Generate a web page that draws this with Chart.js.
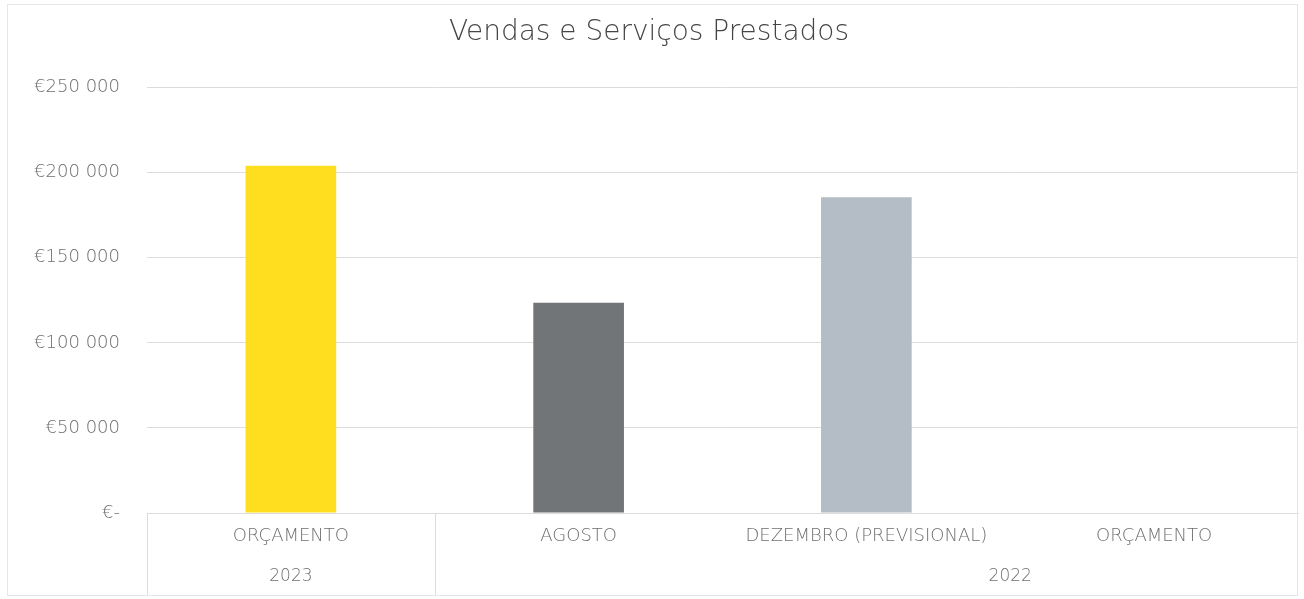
<!DOCTYPE html>
<html>
<head>
<meta charset="utf-8">
<script src="https://cdn.jsdelivr.net/npm/chart.js@4.4.0/dist/chart.umd.min.js"></script>
<style>
  html, body { margin: 0; padding: 0; background: #ffffff; overflow: hidden; }
  #wrap { position: relative; width: 1304px; height: 599px; }
  #frame { position: absolute; left: 7px; top: 4px; width: 1291px; height: 592px; border: 1px solid #e4e6e8; box-sizing: border-box; pointer-events: none; }
</style>
</head>
<body>
<div id="wrap">
  <canvas id="c" width="1304" height="599"></canvas>
  <div id="frame"></div>
</div>
<script>
const categories = ['ORÇAMENTO', 'AGOSTO', 'DEZEMBRO (PREVISIONAL)', 'ORÇAMENTO'];
const values = [204000, 123500, 185500, null];
const barColors = ['#FFDD1F', '#727578', '#B4BDC5', '#B4BDC5'];
const yearGroups = [
  { label: '2023', from: 0, to: 0 },
  { label: '2022', from: 1, to: 4 }
];
const yTicks = [0, 50000, 100000, 150000, 200000, 250000];

function fmtEuro(v) {
  if (v === 0) return '€-';
  return '€' + String(v).replace(/\B(?=(\d{3})+(?!\d))/g, ' ');
}

const FONT = "'DejaVu Sans', 'Open Sans', sans-serif";
const lineColor = '#dcdcdc';
const textColor = '#6f6f6f';

const groupPlugin = {
  id: 'groups',
  afterDraw(chart) {
    const ctx = chart.ctx;
    const x = chart.scales.x;
    const area = chart.chartArea;
    const step = x.getPixelForValue(1) - x.getPixelForValue(0);
    const bottom = 596;
    ctx.save();
    ctx.strokeStyle = lineColor;
    ctx.lineWidth = 1;
    const seps = [area.left];
    yearGroups.forEach(g => seps.push(x.getPixelForValue(g.to) + step / 2));
    ctx.beginPath();
    seps.forEach(px => {
      const sx = Math.round(px) + 0.5;
      if (sx > 1300) return;
      ctx.moveTo(sx, area.bottom);
      ctx.lineTo(sx, bottom);
    });
    ctx.moveTo(area.left, bottom - 0.5);
    ctx.lineTo(area.right, bottom - 0.5);
    ctx.stroke();
    ctx.fillStyle = textColor;
    ctx.font = "200 17px " + FONT;
    ctx.textAlign = 'center';
    ctx.textBaseline = 'middle';
    yearGroups.forEach(g => {
      const a = x.getPixelForValue(g.from) - step / 2;
      const b = x.getPixelForValue(g.to) + step / 2;
      ctx.fillText(g.label, (a + b) / 2, 577);
    });
    ctx.restore();
  }
};

new Chart(document.getElementById('c'), {
  type: 'bar',
  data: {
    labels: categories,
    datasets: [{
      data: values,
      backgroundColor: barColors,
      borderWidth: 0,
      barPercentage: 0.315,
      categoryPercentage: 1.0
    }]
  },
  plugins: [groupPlugin],
  options: {
    responsive: false,
    animation: false,
    layout: { padding: { left: 0, right: 6, top: 0, bottom: 0 } },
    plugins: {
      legend: { display: false },
      tooltip: { enabled: false },
      title: {
        display: true,
        text: 'Vendas e Serviços Prestados',
        color: '#454545',
        font: { family: FONT, size: 28, weight: 200 },
        padding: { top: 16, bottom: 38 }
      }
    },
    scales: {
      x: {
        grid: { display: false, drawTicks: false },
        border: { display: true, color: lineColor },
        ticks: {
          color: textColor,
          font: { family: FONT, size: 18, weight: 200 },
          padding: 13,
          maxRotation: 0,
          autoSkip: false
        },
        afterFit(s) { s.height = 86; }
      },
      y: {
        min: 0,
        max: 250000,
        afterBuildTicks(s) { s.ticks = yTicks.map(v => ({ value: v })); },
        grid: { color: lineColor, drawTicks: false },
        border: { display: false },
        ticks: {
          color: textColor,
          font: { family: FONT, size: 18, weight: 200 },
          padding: 27,
          callback: v => fmtEuro(v)
        },
        afterFit(s) { s.width = 147; }
      }
    }
  }
});
</script>
</body>
</html>
